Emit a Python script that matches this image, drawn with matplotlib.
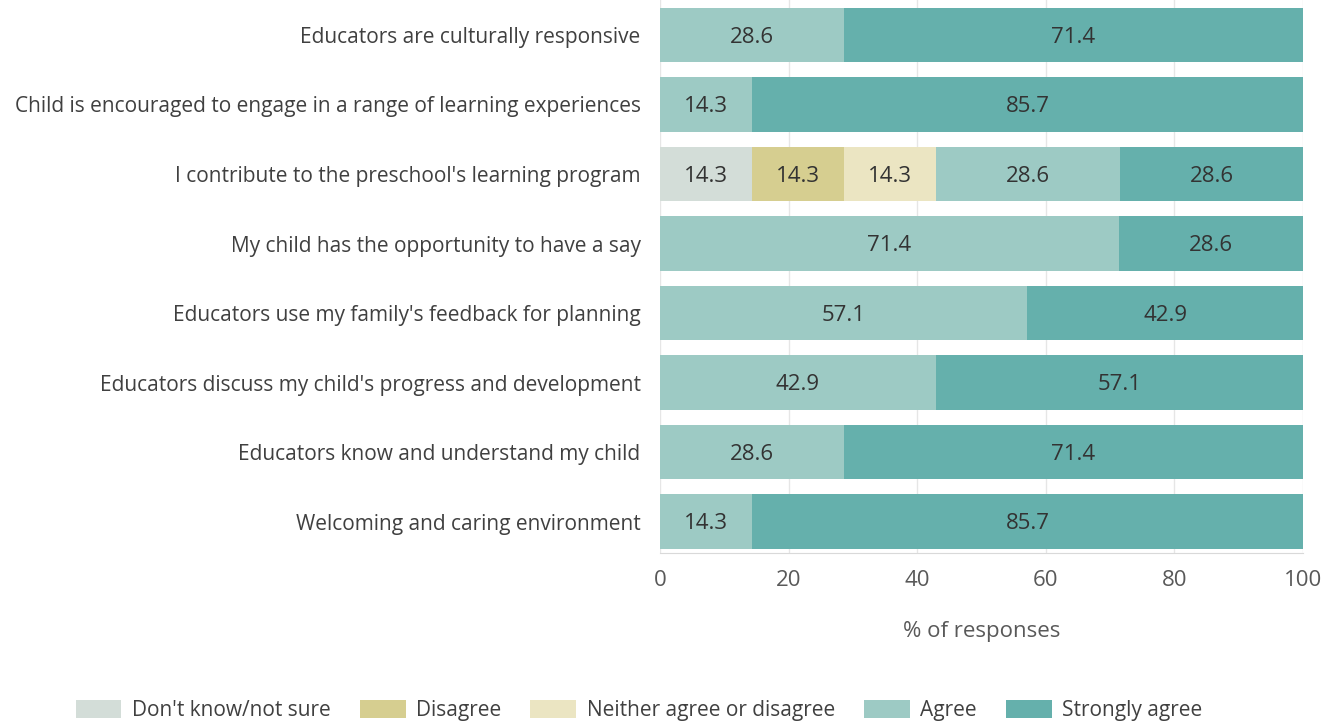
import matplotlib.pyplot as plt
import numpy as np

plt.rcParams['font.family'] = ['Open Sans', 'DejaVu Sans']

questions = [
    "Educators are culturally responsive",
    "Child is encouraged to engage in a range of learning experiences",
    "I contribute to the preschool's learning program",
    "My child has the opportunity to have a say",
    "Educators use my family's feedback for planning",
    "Educators discuss my child's progress and development",
    "Educators know and understand my child",
    "Welcoming and caring environment",
]
categories = ["Don't know/not sure", "Disagree", "Neither agree or disagree", "Agree", "Strongly agree"]
dont_know = [0, 0, 14.3, 0, 0, 0, 0, 0]
disagree = [0, 0, 14.3, 0, 0, 0, 0, 0]
neither = [0, 0, 14.3, 0, 0, 0, 0, 0]
agree = [28.6, 14.3, 28.6, 71.4, 57.1, 42.9, 28.6, 14.3]
strongly = [71.4, 85.7, 28.6, 28.6, 42.9, 57.1, 71.4, 85.7]
colors = ['#d3ddd8', '#d6ce90', '#ebe5c2', '#9dcac4', '#65b0ac']

fig = plt.figure(figsize=(13.4, 7.22), dpi=100)
ax = fig.add_axes([0.4925, 0.2343, 0.4799, 0.7654])

y = np.arange(len(questions))
left = np.zeros(len(questions))
for name, vals, c in zip(categories, [dont_know, disagree, neither, agree, strongly], colors):
    vals = np.array(vals)
    ax.barh(y, vals, left=left, height=0.78, color=c, label=name, zorder=2)
    for yi, (l, v) in enumerate(zip(left, vals)):
        if v > 0:
            ax.text(l + v / 2, yi + 0.03, f"{v:.1f}", ha='center', va='center',
                    fontsize=16, color='#333333', zorder=3)
    left += vals

ax.set_ylim(7.45, -0.5)
ax.set_xlim(0, 100)
ax.set_yticks(y)
ax.set_yticklabels(questions, fontsize=15, color='#404040')
ax.set_xticks([0, 20, 40, 60, 80, 100])
ax.tick_params(axis='x', labelsize=16, labelcolor='#595959', length=0, pad=12)
ax.tick_params(axis='y', length=0, pad=14)
ax.grid(axis='x', color='#e6e6e6', linewidth=1, zorder=0)
for s in ['top', 'right', 'left']:
    ax.spines[s].set_visible(False)
ax.spines['bottom'].set_color('#d9d9d9')
ax.set_xlabel('% of responses', fontsize=16, color='#595959', labelpad=22)

fig.legend(loc='lower center', bbox_to_anchor=(0.477, -0.025), ncol=5, frameon=False,
           fontsize=15, handlelength=2.2, handleheight=1.0, columnspacing=1.4,
           handletextpad=0.5, labelcolor='#404040')

fig.savefig('out.png', dpi=100)
